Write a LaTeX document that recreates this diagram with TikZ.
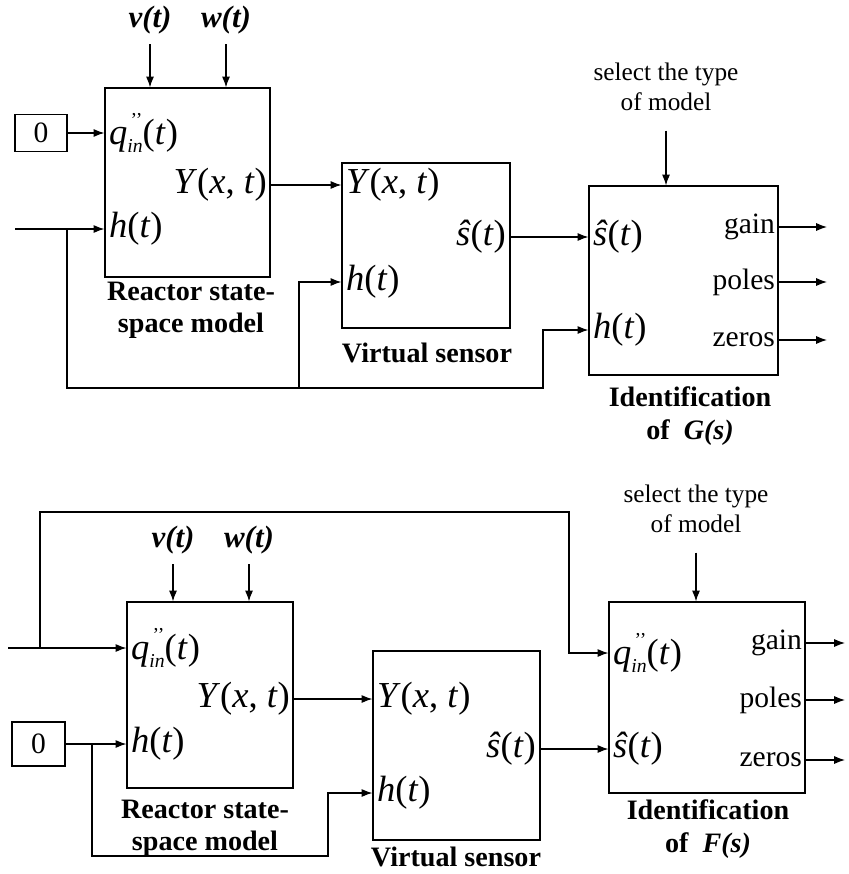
\documentclass[tikz,border=0pt]{standalone}
\usepackage{fontspec}
\setmainfont{Liberation Serif}
\usetikzlibrary{arrows.meta}
\newcommand{\sigh}{\textit{h}(\textit{t})}
\newcommand{\sigY}{\textit{Y}(\textit{x}, \textit{t})}
\newcommand{\sigs}{\textit{\^{s}}(\textit{t})}
\newcommand{\sigq}{\textit{q}\makebox[0pt][l]{\raisebox{1.05ex}{\fontsize{14}{14}\selectfont\,{'}{'}}}\raisebox{-0.5ex}{\fontsize{14}{14}\selectfont\textit{in}}(\textit{t})}
\tikzset{
  blk/.style={draw,thick,inner sep=0pt},
  lab/.style={font=\fontsize{21}{24}\selectfont,inner sep=2pt},
  note/.style={font=\fontsize{18}{21}\selectfont,align=center,inner sep=2pt},
  var/.style={font=\fontsize{26}{28}\selectfont,inner sep=2pt},
  dist/.style={font=\fontsize{22}{24}\selectfont\bfseries\itshape,inner sep=2pt},
  blkname/.style={font=\fontsize{20}{23}\selectfont\bfseries,align=center,inner sep=0pt},
  sig/.style={thick,-{Latex[length=2.7mm,width=2mm]}}
}
\begin{document}
\begin{tikzpicture}[x=0.025cm,y=-0.025cm]
\useasboundingbox (0,0) rectangle (848,874);
% upper diagram: identification of G(s)
\node[blk,lab,minimum width=1.3cm,minimum height=0.925cm] (zeroA) at (41,133) {0};
\node[blk,minimum width=4.125cm,minimum height=4.725cm] (reactA) at (187.5,182.5) {};
\node[blk,minimum width=4.2cm,minimum height=4.125cm] (vsA) at (426,245.5) {};
\node[blk,minimum width=4.725cm,minimum height=4.725cm] (idA) at (683.5,280.5) {};
\node[var,anchor=west] (rAq) at (106,133) {\sigq};
\node[var,anchor=west] (rAh) at (106,229) {\sigh};
\node[var,anchor=east] (rAY) at (270,185) {\sigY};
\node[var,anchor=west] (vAY) at (343,185) {\sigY};
\node[var,anchor=west] (vAh) at (343,282) {\sigh};
\node[var,anchor=east] (vAs) at (509,237) {\sigs};
\node[var,anchor=west] (iAs) at (590,237) {\sigs};
\node[var,anchor=west] (iAh) at (590,330) {\sigh};
\node[dist] (vA) at (150,20) {v(t)};
\node[dist] (wA) at (226,20) {w(t)};
\node[note] (selA) at (666,87) {select the type\\of model};
\node[blkname] (cRA) at (191,310) {Reactor state-\\space model};
\node[blkname] (cVA) at (427,353) {Virtual sensor};
\node[blkname] (cIA) at (690,416) {Identification\\of~~\textit{G(s)}};
\coordinate (inA) at (15,229);
\coordinate (jA) at (67,229);
\coordinate (bA) at (299,388);
\coordinate (cA) at (543,388);
\draw[sig,shorten <=5pt] (vA.south) -- (reactA.north -| vA);
\draw[sig,shorten <=5pt] (wA.south) -- (reactA.north -| wA);
\draw[sig,shorten <=12pt] (selA.south) -- (idA.north -| selA);
\draw[sig] (zeroA.east) -- (reactA.west |- zeroA.east);
\draw[sig] (inA) -- (reactA.west |- rAh);
\draw[sig] (reactA.east |- rAY) -- (vsA.west |- rAY);
\draw[sig] (jA) |- (cA) |- (idA.west |- iAh);
\draw[sig] (bA) |- (vsA.west |- vAh);
\draw[sig] (vsA.east |- vAs) -- (idA.west |- vAs);
\foreach \o/\yy in {gain/227,poles/282,zeros/340}{
  \node[lab,anchor=east] (iA\o) at (778,\yy) {\o};
  \coordinate (oA\o) at (827,\yy);
  \draw[sig] (idA.east |- iA\o) -- (oA\o);
}
% lower diagram: identification of F(s)
\node[blk,lab,minimum width=1.325cm,minimum height=1.1cm] (zeroB) at (38.5,744) {0};
\node[blk,minimum width=4.15cm,minimum height=4.65cm] (reactB) at (210,695) {};
\node[blk,minimum width=4.175cm,minimum height=4.725cm] (vsB) at (456.5,745.5) {};
\node[blk,minimum width=4.9cm,minimum height=4.775cm] (idB) at (707,697.5) {};
\node[var,anchor=west] (rBq) at (128,648) {\sigq};
\node[var,anchor=west] (rBh) at (128,744) {\sigh};
\node[var,anchor=east] (rBY) at (293,699) {\sigY};
\node[var,anchor=west] (vBY) at (374,699) {\sigY};
\node[var,anchor=west] (vBh) at (374,793) {\sigh};
\node[var,anchor=east] (vBs) at (539,749) {\sigs};
\node[var,anchor=west] (iBq) at (610,653) {\sigq};
\node[var,anchor=west] (iBs) at (610,749) {\sigs};
\node[dist] (vB) at (173,540) {v(t)};
\node[dist] (wB) at (249,540) {w(t)};
\node[note] (selB) at (696,509) {select the type\\of model};
\node[blkname] (cRB) at (205,828) {Reactor state-\\space model};
\node[blkname] (cVB) at (456,857) {Virtual sensor};
\node[blkname] (cIB) at (708,829) {Identification\\of~~\textit{F(s)}};
\coordinate (inB) at (8,648);
\coordinate (jB) at (40,648);
\coordinate (tB) at (569,512);
\coordinate (kB) at (92,744);
\coordinate (bB) at (328,856);
\draw[sig,shorten <=5pt] (vB.south) -- (reactB.north -| vB);
\draw[sig,shorten <=5pt] (wB.south) -- (reactB.north -| wB);
\draw[sig,shorten <=12pt] (selB.south) -- (idB.north -| selB);
\draw[sig] (inB) -- (reactB.west |- rBq);
\draw[sig] (jB) |- (tB) |- (idB.west |- iBq);
\draw[sig] (zeroB.east) -- (reactB.west |- zeroB.east);
\draw[sig] (kB) |- (bB) |- (vsB.west |- vBh);
\draw[sig] (reactB.east |- rBY) -- (vsB.west |- rBY);
\draw[sig] (vsB.east |- vBs) -- (idB.west |- vBs);
\foreach \o/\yy in {gain/643,poles/700,zeros/760}{
  \node[lab,anchor=east] (iB\o) at (805,\yy) {\o};
  \coordinate (oB\o) at (845,\yy);
  \draw[sig] (idB.east |- iB\o) -- (oB\o);
}
\end{tikzpicture}
\end{document}
